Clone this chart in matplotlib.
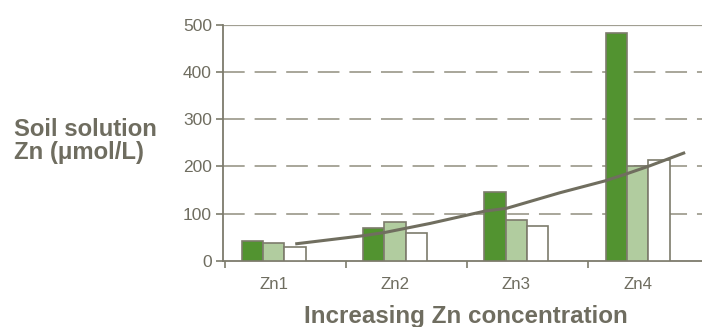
import matplotlib.pyplot as plt
import numpy as np

plt.rcParams['font.family'] = ['Liberation Sans', 'DejaVu Sans']

# soil solution Zn per treatment, three series per group
groups = ['Zn1', 'Zn2', 'Zn3', 'Zn4']
series_dark = [42, 69, 145, 482]
series_light = [37, 81, 86, 200]
series_white = [30, 59, 74, 214]

# trend line (x in group units, y in umol/L)
trend_x = [0.19, 0.74, 0.92, 1.29, 1.74, 1.92, 2.36, 2.73, 2.92, 3.10, 3.38]
trend_y = [36, 53, 60, 79, 105, 111, 144, 169, 185, 201, 228]

text_col = '#6f6d60'
edge_col = '#7d7b6c'
grid_col = '#a19f92'

fig = plt.figure(figsize=(7.02, 3.27), dpi=100)
ax = fig.add_axes([223/702, 66.3/327, 479/702, 236/327])

x = np.arange(len(groups))
w = 0.176
ax.bar(x - w, series_dark, w, color='#529330', edgecolor=edge_col, linewidth=1.2, zorder=3)
ax.bar(x, series_light, w, color='#b1cc9f', edgecolor=edge_col, linewidth=1.2, zorder=3)
ax.bar(x + w, series_white, w, color='white', edgecolor=edge_col, linewidth=1.2, zorder=3)

ax.plot(trend_x, trend_y, color='#706e5f', linewidth=2.2, zorder=4)

# dashed grid, solid line at the top
for v in [100, 200, 300, 400]:
    ax.axhline(v, color=grid_col, linewidth=1.3, dashes=(12, 5.5), zorder=1)
ax.axhline(500, color=grid_col, linewidth=1.6, zorder=1)

left = -0.418
ax.set_xlim(left, left + 479/121.3)
ax.set_ylim(0, 500)

for s in ['top', 'right']:
    ax.spines[s].set_visible(False)
for s in ['left', 'bottom']:
    ax.spines[s].set_color(edge_col)
    ax.spines[s].set_linewidth(1.3)

ax.set_yticks([0, 100, 200, 300, 400, 500])
ax.tick_params(axis='y', colors=edge_col, length=5, width=1.2, labelsize=12.5,
               labelcolor=text_col, pad=3)

# category boundaries get tick marks, names sit between them
ax.set_xticks(np.arange(4) - 0.405)
ax.set_xticklabels([])
ax.tick_params(axis='x', colors=edge_col, length=5, width=1.2)
ax.set_xticks(x, minor=True)
ax.set_xticklabels(groups, minor=True)
ax.tick_params(axis='x', which='minor', length=0, labelsize=12.2,
               labelcolor=text_col, pad=12)

fig.text(0.02, 1 - 141/327, 'Soil solution\nZn (\u03bcmol/L)', fontsize=17.2, fontweight='bold',
         color=text_col, ha='left', va='center', linespacing=1.0)
fig.text(466/702, 1 - 317/327, 'Increasing Zn concentration', fontsize=17.4,
         fontweight='bold', color=text_col, ha='center', va='center')

fig.savefig('out.png', dpi=100)
